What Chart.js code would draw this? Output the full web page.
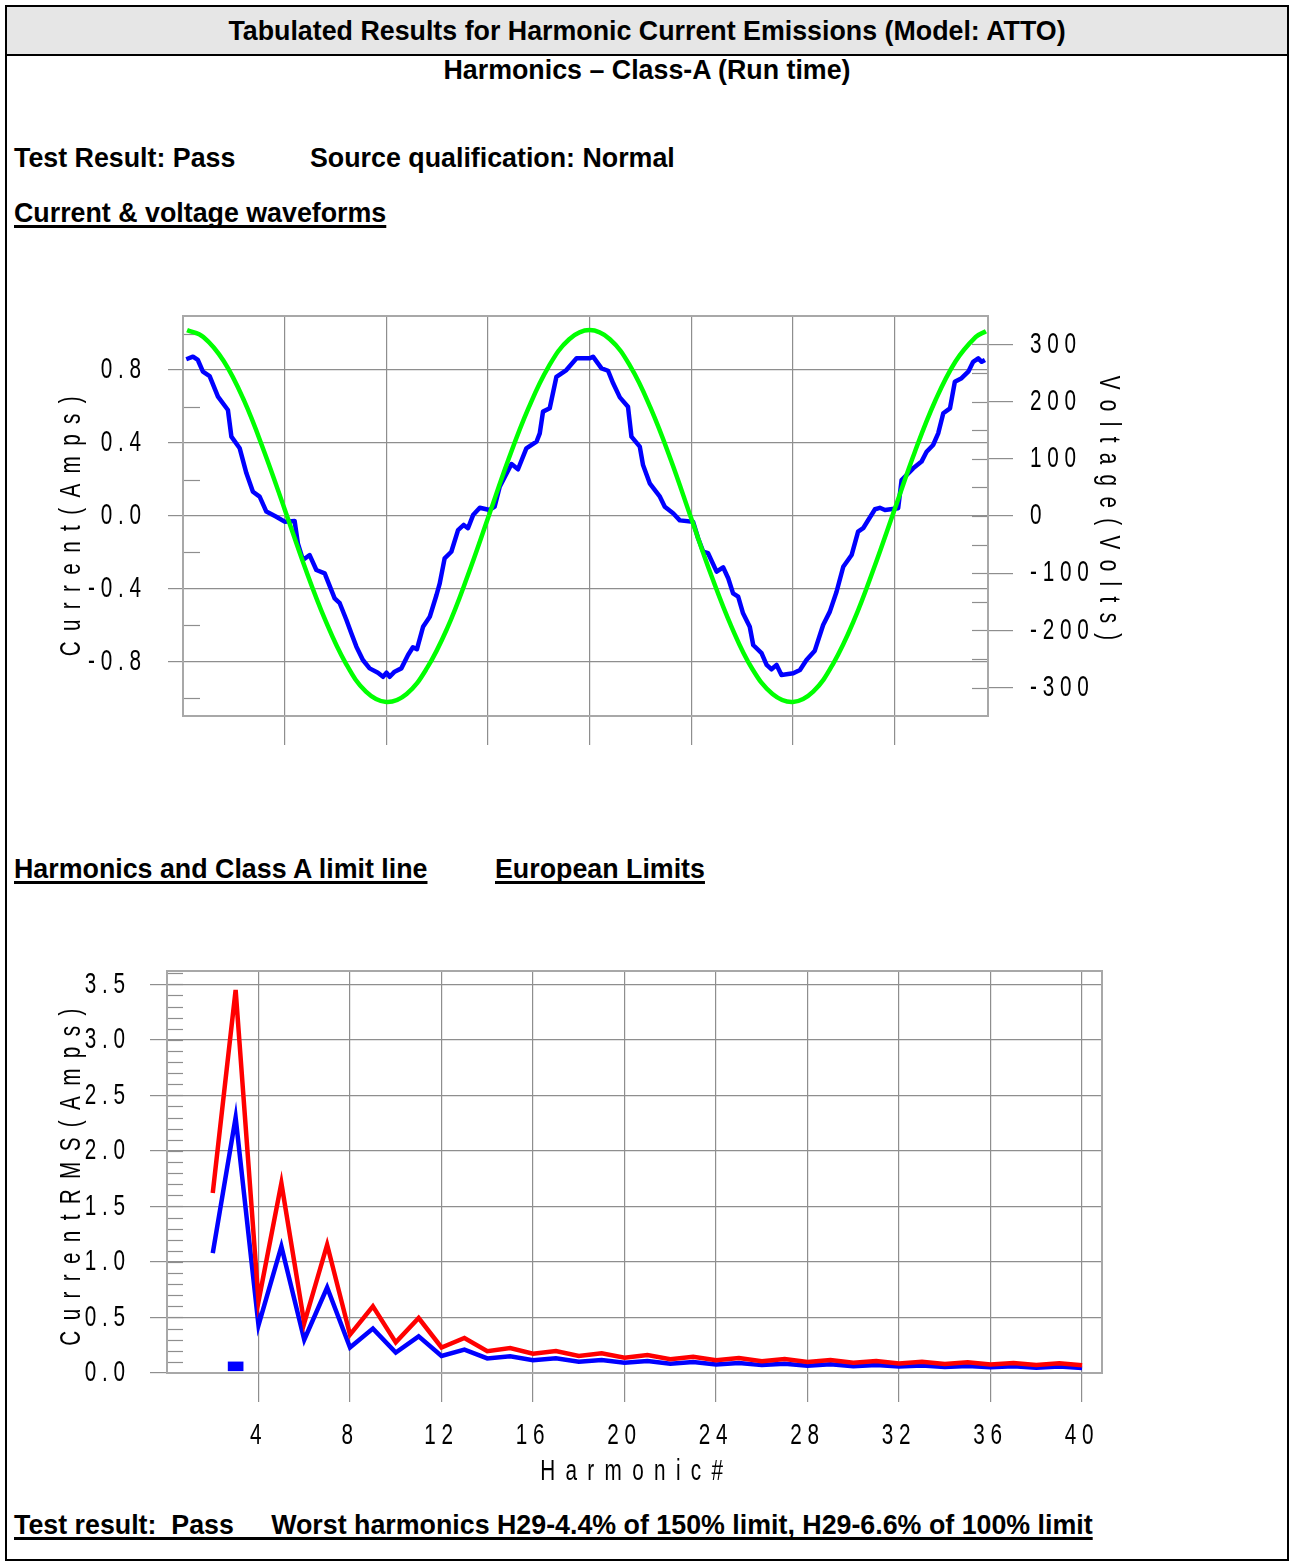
<!DOCTYPE html>
<html lang="en">
<head>
<meta charset="UTF-8">
<title>Harmonic Current Emissions</title>
<script src="https://cdn.jsdelivr.net/npm/chart.js"></script>
<style>
    body {
        margin: 0;
        background: #fff;
        font-family: 'Liberation Sans', Arial, sans-serif;
    }

    #frame {
        position: absolute;
        left: 5px;
        top: 5px;
        width: 1284px;
        height: 1556px;
        border: 2px solid #000;
        box-sizing: border-box;
    }

    #hdrBand {
        position: absolute;
        left: 7px;
        top: 7px;
        width: 1280px;
        height: 47px;
        background: #e6e6e6;
        border-bottom: 2px solid #000;
    }

    .txt {
        position: absolute;
        font-weight: bold;
        font-size: 26.8px;
        line-height: 30px;
        white-space: pre;
        color: #000;
    }

    .center {
        left: 7px;
        width: 1280px;
        text-align: center;
    }

    .u {
        text-decoration: underline;
        text-decoration-thickness: 2.5px;
        text-underline-offset: 3px;
        text-decoration-skip-ink: none;
    }

    canvas {
        position: absolute;
    }
</style>
</head>
<body>
<div id="frame"></div>
<div id="hdrBand"></div>
<div class="txt center" style="top:16px">Tabulated Results for Harmonic Current Emissions (Model: ATTO)</div>
<div class="txt center" style="top:55px">Harmonics – Class-A (Run time)</div>
<div class="txt" style="left:14px;top:143px">Test Result: Pass</div>
<div class="txt" style="left:310px;top:143px">Source qualification: Normal</div>
<div class="txt u" style="left:14px;top:198px">Current &amp; voltage waveforms</div>
<div class="txt u" style="left:14px;top:854px">Harmonics and Class A limit line</div>
<div class="txt u" style="left:495px;top:854px">European Limits</div>
<div class="txt u" style="left:14px;top:1510px">Test result:  Pass     Worst harmonics H29-4.4% of 150% limit, H29-6.6% of 100% limit</div>

<canvas id="waveChart" width="1110" height="470" style="left:40px;top:300px"></canvas>
<canvas id="harmChart" width="1110" height="560" style="left:40px;top:950px"></canvas>

<script>
    // ---- waveform data (time in ms) ----
    const currentTime = [0.16, 0.49, 0.73, 0.98, 1.31, 1.72, 2.21, 2.38, 2.79, 3.12,
        3.44, 3.77, 4.10, 4.59, 5.00, 5.49, 5.65, 5.90, 6.23, 6.56,
        6.97, 7.46, 7.71, 8.04, 8.28, 8.53, 8.85, 9.18, 9.59, 9.84,
        10.01, 10.17, 10.41, 10.74, 11.07, 11.31, 11.51, 11.81, 12.14, 12.47,
        12.63, 12.87, 13.20, 13.53, 13.81, 14.02, 14.27, 14.60, 15.09, 15.33,
        15.58, 16.16, 16.48, 16.89, 17.39, 17.55, 17.71, 18.04, 18.37, 18.86,
        19.36, 20.01, 20.17, 20.59, 20.91, 21.16, 21.49, 21.89, 22.06, 22.47,
        22.63, 22.96, 23.46, 23.70, 24.11, 24.44, 25.09, 25.34, 25.59, 25.83,
        26.25, 26.57, 26.82, 27.06, 27.31, 27.55, 27.88, 28.05, 28.46, 28.71,
        28.95, 29.20, 29.44, 30.02, 30.35, 30.67, 31.08, 31.49, 31.82, 32.15,
        32.48, 32.89, 33.21, 33.46, 33.71, 34.04, 34.28, 34.53, 35.18, 35.35,
        35.92, 36.33, 36.58, 36.90, 37.15, 37.40, 37.73, 37.97, 38.30, 38.63,
        38.87, 39.12, 39.29, 39.45];
    const currentAmps = [0.859, 0.873, 0.855, 0.791, 0.767, 0.654, 0.581, 0.435, 0.371, 0.234,
        0.133, 0.106, 0.024, -0.004, -0.031, -0.027, -0.150, -0.241, -0.214, -0.296,
        -0.314, -0.451, -0.478, -0.570, -0.643, -0.716, -0.789, -0.835, -0.859, -0.881,
        -0.859, -0.881, -0.853, -0.835, -0.762, -0.719, -0.730, -0.607, -0.552, -0.433,
        -0.369, -0.232, -0.196, -0.077, -0.049, -0.067, 0.005, 0.045, 0.033, 0.051,
        0.161, 0.285, 0.256, 0.371, 0.407, 0.453, 0.572, 0.590, 0.763, 0.800,
        0.864, 0.864, 0.873, 0.809, 0.796, 0.727, 0.650, 0.599, 0.435, 0.380,
        0.279, 0.179, 0.106, 0.051, 0.015, -0.024, -0.031, -0.122, -0.196, -0.204,
        -0.305, -0.281, -0.341, -0.424, -0.442, -0.533, -0.607, -0.707, -0.752, -0.816,
        -0.840, -0.816, -0.871, -0.862, -0.844, -0.789, -0.738, -0.597, -0.524, -0.415,
        -0.278, -0.214, -0.086, -0.067, -0.022, 0.037, 0.045, 0.033, 0.042, 0.197,
        0.261, 0.298, 0.352, 0.389, 0.453, 0.563, 0.590, 0.736, 0.755, 0.791,
        0.845, 0.864, 0.845, 0.855];
    const voltageTime = [0.2, 1, 2, 3, 4, 5, 6, 7, 8, 9, 10, 11, 12, 13, 14, 15, 16, 17, 18, 19,
        20, 21, 22, 23, 24, 25, 26, 27, 28, 29, 30, 31, 32, 33, 34, 35, 36, 37, 38, 39, 39.5];
    const voltageVolts = [325, 313, 271, 202, 112, 12, -90, -182, -257, -307,
        -325, -311, -266, -196, -105, -4, 98, 189, 262, 309,
        325, 309, 262, 189, 98, -4, -105, -195, -267, -311,
        -325, -307, -257, -183, -90, 11, 112, 201, 270, 313, 323];

    const waveTimeTicks = [5, 10, 15, 20, 25, 30, 35];
    const ampTicks = [-0.8, -0.4, 0, 0.4, 0.8];
    const ampLabels = ['-0.8', '-0.4', '0.0', '0.4', '0.8'];
    const ampMinor = [-1.0, -0.6, -0.2, 0.2, 0.6, 1.0];
    const voltTicks = [-300, -200, -100, 0, 100, 200, 300];
    const voltLabels = ['-300', '-200', '-100', '0', '100', '200', '300'];
    const voltMinor = [-300, -250, -200, -150, -100, -50, 0, 50, 100, 150, 200, 250, 300];

    // ---- harmonics data ----
    const harmonicNo = [2, 3, 4, 5, 6, 7, 8, 9, 10, 11, 12, 13, 14, 15, 16, 17, 18, 19, 20, 21,
        22, 23, 24, 25, 26, 27, 28, 29, 30, 31, 32, 33, 34, 35, 36, 37, 38, 39, 40];
    const limit100 = [1.08, 2.30, 0.43, 1.14, 0.30, 0.77, 0.23, 0.40, 0.184, 0.33,
        0.153, 0.21, 0.131, 0.15, 0.115, 0.132, 0.102, 0.118, 0.092, 0.107,
        0.084, 0.098, 0.077, 0.090, 0.071, 0.083, 0.066, 0.078, 0.061, 0.073,
        0.058, 0.068, 0.054, 0.064, 0.051, 0.061, 0.048, 0.058, 0.046];
    const limit150 = [1.62, 3.45, 0.645, 1.71, 0.45, 1.155, 0.345, 0.60, 0.276, 0.495,
        0.23, 0.315, 0.197, 0.225, 0.173, 0.198, 0.153, 0.178, 0.138, 0.161,
        0.125, 0.147, 0.115, 0.135, 0.106, 0.125, 0.099, 0.116, 0.092, 0.109,
        0.086, 0.102, 0.081, 0.096, 0.077, 0.091, 0.073, 0.087, 0.069];
    const measuredNo = [3];
    const measuredRange = [[0.02, 0.10]];

    const harmTicks = [4, 8, 12, 16, 20, 24, 28, 32, 36, 40];
    const harmLabels = ['4', '8', '12', '16', '20', '24', '28', '32', '36', '40'];
    const rmsTicks = [0, 0.5, 1.0, 1.5, 2.0, 2.5, 3.0, 3.5];
    const rmsLabels = ['0.0', '0.5', '1.0', '1.5', '2.0', '2.5', '3.0', '3.5'];
    const rmsMinor = [0.1, 0.2, 0.3, 0.4, 0.5, 0.6, 0.7, 0.8, 0.9, 1.0, 1.1, 1.2, 1.3, 1.4, 1.5, 1.6, 1.7, 1.8,
        1.9, 2.0, 2.1, 2.2, 2.3, 2.4, 2.5, 2.6, 2.7, 2.8, 2.9, 3.0, 3.1, 3.2, 3.3, 3.4, 3.5, 3.6];

    const GRID = '#8e8e8e';
    const BOX = '#a8a8a8';
    const EN = '\u2002';

    Chart.defaults.color = '#000';
    Chart.defaults.font.family = "'Liberation Sans', Arial, sans-serif";
    Chart.defaults.font.size = 30;

    // tick text like "0 . 8", titles with wide letter gaps
    const tickText = s => s.split('').join(' ');
    const titleText = (s, tail) => s.replace(/ /g, '').split('').join(EN) + (tail || '');

    // the plotter used a narrow face; squeeze all chart text horizontally
    function narrowText(canvas, k) {
        const ctx = canvas.getContext('2d');
        const fill = ctx.fillText.bind(ctx);
        ctx.fillText = function (text, x, y) {
            ctx.save();
            ctx.translate(x, y);
            ctx.scale(k, 1);
            fill(text, 0, 0);
            ctx.restore();
        };
        return canvas;
    }

    function points(xs, ys) {
        return xs.map((x, i) => ({ x: x, y: ys[i] }));
    }

    function fixedTicks(values) {
        return scale => { scale.ticks = values.map(v => ({ value: v })); };
    }

    // fixed axis size, no label overhang padding
    function boxSize(prop, size) {
        return s => {
            s[prop] = size;
            s.paddingTop = 0;
            s.paddingBottom = 0;
            s.paddingLeft = 0;
            s.paddingRight = 0;
        };
    }

    // Draws the plot frame and the short inner minor ticks.
    const frameAndMinor = {
        id: 'frameAndMinor',
        beforeDatasetsDraw(chart, args, opts) {
            const { ctx, chartArea: a } = chart;
            ctx.save();
            ctx.strokeStyle = GRID;
            ctx.lineWidth = 1.2;
            (opts.minor || []).forEach(m => {
                const s = chart.scales[m.axis];
                m.values.forEach(v => {
                    const y = Math.round(s.getPixelForValue(v)) + 0.5;
                    ctx.beginPath();
                    if (m.side === 'left') {
                        ctx.moveTo(a.left, y);
                        ctx.lineTo(a.left + m.len, y);
                    } else {
                        ctx.moveTo(a.right - m.len, y);
                        ctx.lineTo(a.right, y);
                    }
                    ctx.stroke();
                });
            });
            ctx.strokeStyle = BOX;
            ctx.lineWidth = 2;
            ctx.strokeRect(a.left, a.top, a.right - a.left, a.bottom - a.top);
            ctx.restore();
        }
    };

    // ---- current & voltage waveforms ----
    new Chart(narrowText(document.getElementById('waveChart'), 0.69), {
        type: 'line',
        data: {
            datasets: [{
                label: 'Voltage',
                data: points(voltageTime, voltageVolts),
                yAxisID: 'y1',
                borderColor: '#00ff00',
                borderWidth: 4.5,
                tension: 0.4,
                pointRadius: 0
            }, {
                label: 'Current',
                data: points(currentTime, currentAmps),
                yAxisID: 'y',
                borderColor: '#0000ff',
                borderWidth: 4.5,
                borderJoinStyle: 'round',
                tension: 0,
                pointRadius: 0
            }]
        },
        options: {
            responsive: false,
            animation: false,
            layout: { padding: { top: 16, left: 0, right: 0, bottom: 0 }, autoPadding: false },
            plugins: {
                legend: { display: false },
                tooltip: { enabled: false },
                frameAndMinor: {
                    minor: [
                        { axis: 'y', side: 'left', len: 17, values: ampMinor },
                        { axis: 'y1', side: 'right', len: 16, values: voltMinor }
                    ]
                }
            },
            scales: {
                x: {
                    type: 'linear',
                    min: 0,
                    max: 39.6,
                    afterBuildTicks: fixedTicks(waveTimeTicks),
                    afterFit: boxSize('height', 54),
                    ticks: { display: false },
                    grid: { color: GRID, lineWidth: 1.2, tickLength: 29 },
                    border: { display: false }
                },
                y: {
                    position: 'left',
                    min: -1.096,
                    max: 1.096,
                    afterBuildTicks: fixedTicks(ampTicks),
                    afterFit: boxSize('width', 143),
                    ticks: { padding: 27, callback: (v, i) => tickText(ampLabels[i]) },
                    grid: { color: GRID, lineWidth: 1.2, tickLength: 15 },
                    border: { display: false },
                    title: {
                        display: true,
                        text: titleText('Current (Amps)', EN + EN),
                        padding: { top: 14, bottom: 0 }
                    }
                },
                y1: {
                    position: 'right',
                    min: -349.6,
                    max: 349.6,
                    afterBuildTicks: fixedTicks(voltTicks),
                    afterFit: boxSize('width', 162),
                    ticks: { padding: 17, callback: (v, i) => tickText(voltLabels[i]) },
                    grid: { drawOnChartArea: false, color: GRID, lineWidth: 1.2, tickLength: 25 },
                    border: { display: false },
                    title: {
                        display: true,
                        text: titleText('Voltage (Volts)', EN + ' '),
                        padding: { top: 24, bottom: 0 }
                    }
                }
            }
        },
        plugins: [frameAndMinor]
    });

    // ---- harmonics and class A limit lines ----
    new Chart(narrowText(document.getElementById('harmChart'), 0.69), {
        type: 'line',
        data: {
            datasets: [{
                label: '150% limit',
                data: points(harmonicNo, limit150),
                borderColor: '#ff0000',
                borderWidth: 4.5,
                tension: 0,
                pointRadius: 0
            }, {
                label: '100% limit',
                data: points(harmonicNo, limit100),
                borderColor: '#0000ff',
                borderWidth: 4.5,
                tension: 0,
                pointRadius: 0
            }, {
                type: 'bar',
                label: 'Measured',
                data: points(measuredNo, measuredRange),
                backgroundColor: '#0000ff',
                barThickness: 15
            }]
        },
        options: {
            responsive: false,
            animation: false,
            layout: { padding: { top: 21, left: 0, right: 48, bottom: 0 }, autoPadding: false },
            plugins: {
                legend: { display: false },
                tooltip: { enabled: false },
                frameAndMinor: {
                    minor: [{ axis: 'y', side: 'left', len: 16, values: rmsMinor }]
                }
            },
            scales: {
                x: {
                    type: 'linear',
                    min: 0,
                    max: 40.87,
                    offset: false,
                    afterBuildTicks: fixedTicks(harmTicks),
                    afterFit: boxSize('height', 137),
                    ticks: { padding: 16, maxRotation: 0, autoSkip: false, callback: (v, i) => tickText(harmLabels[i]) + ' ' },
                    grid: { color: GRID, lineWidth: 1.2, tickLength: 29, offset: false },
                    border: { display: false },
                    title: {
                        display: true,
                        text: titleText('Harmonic #', ' '),
                        padding: { top: 0, bottom: 20 }
                    }
                },
                y: {
                    position: 'left',
                    min: 0,
                    max: 3.62,
                    afterBuildTicks: fixedTicks(rmsTicks),
                    afterFit: boxSize('width', 127),
                    ticks: { padding: 25, callback: (v, i) => tickText(rmsLabels[i]) },
                    grid: { color: GRID, lineWidth: 1.2, tickLength: 17 },
                    border: { display: false },
                    title: {
                        display: true,
                        text: titleText('Current RMS (Amps)', EN),
                        padding: { top: 14, bottom: 0 }
                    }
                }
            }
        },
        plugins: [frameAndMinor]
    });
</script>
</body>
</html>
